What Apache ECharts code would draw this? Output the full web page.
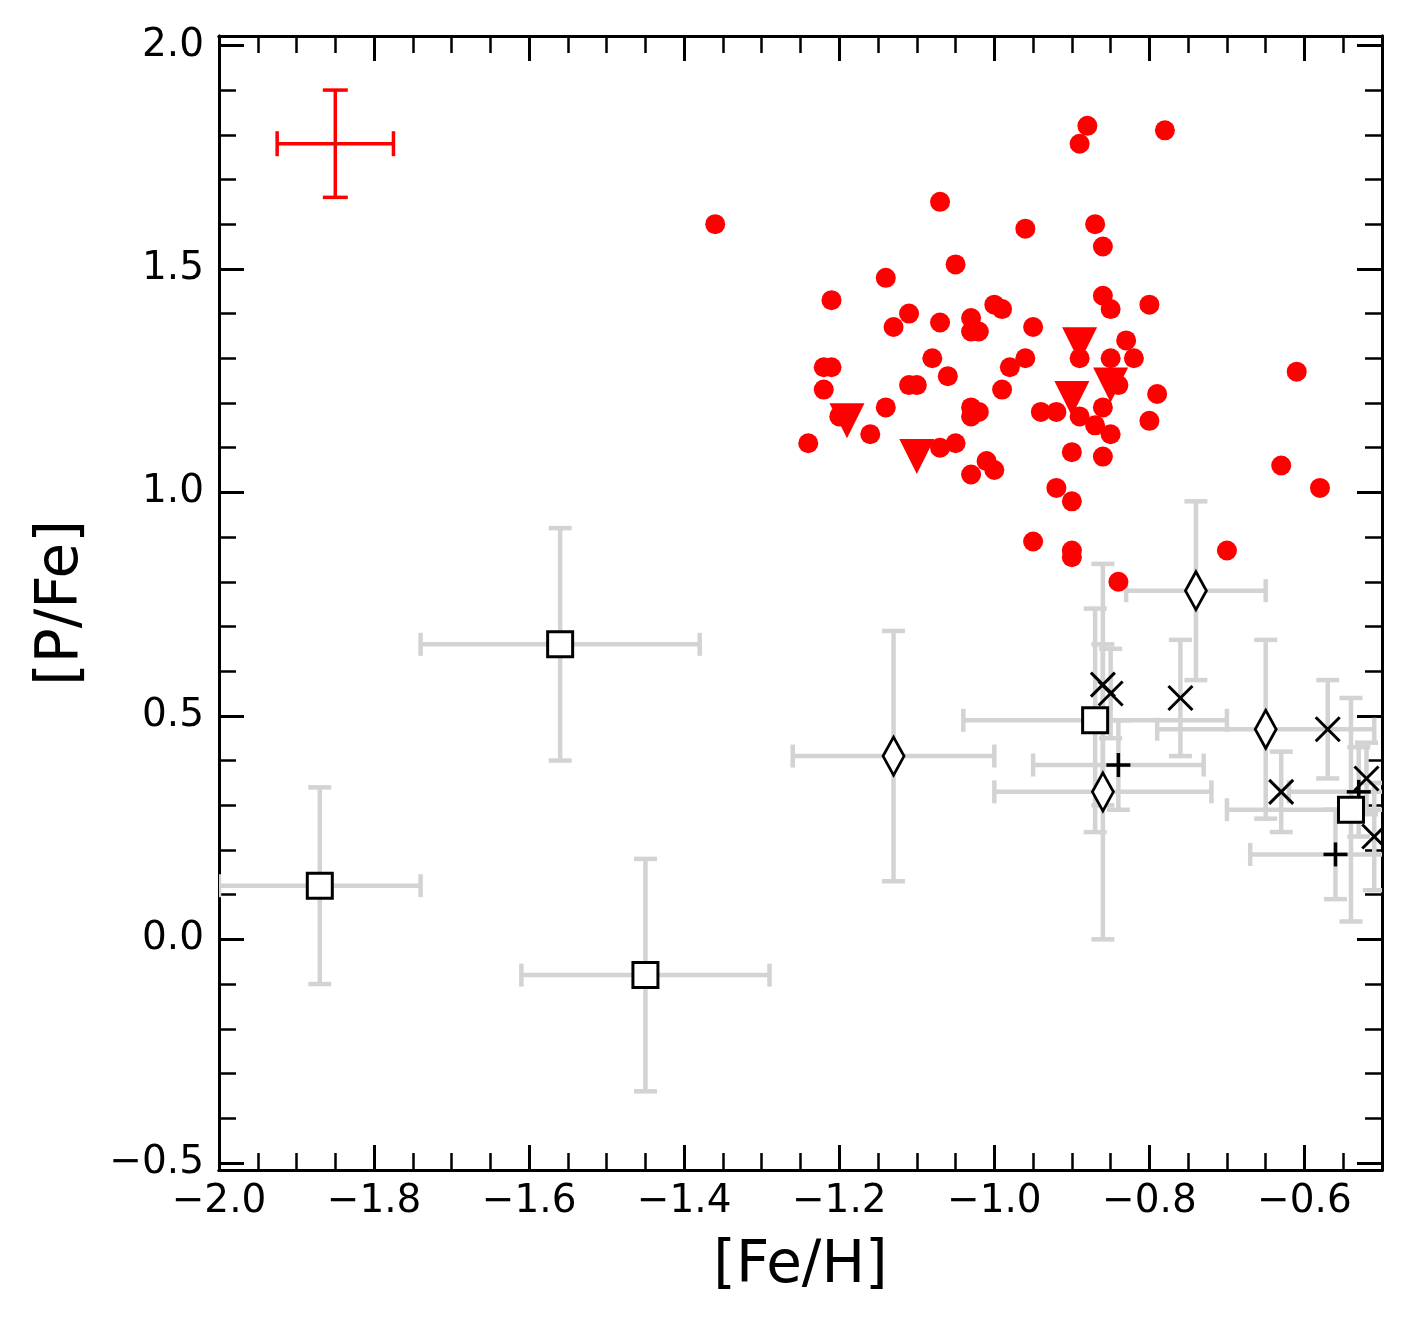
<!DOCTYPE html>
<html>
<head>
<meta charset="utf-8">
<script src="https://cdn.jsdelivr.net/npm/echarts@6/dist/echarts.min.js"></script>
<style>
  html, body { margin: 0; padding: 0; background: #fff; }
  #chart { width: 1411px; height: 1328px; }
</style>
</head>
<body>
<div id="chart"></div>
<script>
// tick positions
const xMajor = [-2.0, -1.8, -1.6, -1.4, -1.2, -1.0, -0.8, -0.6];
const xMinor = [-1.95, -1.90, -1.85, -1.75, -1.70, -1.65, -1.55, -1.50, -1.45,
  -1.35, -1.30, -1.25, -1.15, -1.10, -1.05, -0.95, -0.90, -0.85, -0.75, -0.70, -0.65, -0.55];
const yMajor = [-0.5, 0.0, 0.5, 1.0, 1.5, 2.0];
const yMinor = [-0.4, -0.3, -0.2, -0.1, 0.1, 0.2, 0.3, 0.4, 0.6, 0.7, 0.8, 0.9,
  1.1, 1.2, 1.3, 1.4, 1.6, 1.7, 1.8, 1.9];

// red sample: [Fe/H], [P/Fe]
const redCircles = [
  [-1.36, 1.60], [-0.88, 1.82], [-0.89, 1.78], [-0.78, 1.81], [-1.07, 1.65],
  [-0.96, 1.59], [-0.87, 1.60], [-0.86, 1.55], [-1.05, 1.51], [-1.14, 1.48],
  [-1.21, 1.43], [-0.86, 1.44], [-0.85, 1.41], [-0.80, 1.42], [-1.00, 1.42],
  [-0.99, 1.41], [-1.11, 1.40], [-1.13, 1.37], [-1.07, 1.38], [-1.03, 1.39],
  [-1.03, 1.36], [-1.02, 1.36], [-0.95, 1.37], [-0.83, 1.34], [-0.96, 1.30],
  [-0.98, 1.28], [-0.99, 1.23], [-0.89, 1.30], [-0.85, 1.30], [-0.82, 1.30],
  [-0.84, 1.24], [-0.79, 1.22], [-0.94, 1.18], [-0.92, 1.18], [-0.89, 1.17],
  [-0.87, 1.15], [-0.86, 1.19], [-0.85, 1.13], [-0.80, 1.16], [-0.90, 1.09],
  [-0.86, 1.08], [-1.00, 1.05], [-0.92, 1.01], [-0.90, 0.98], [-0.95, 0.89],
  [-0.90, 0.87], [-0.90, 0.855], [-0.84, 0.80], [-1.08, 1.30], [-1.22, 1.28],
  [-1.21, 1.28], [-1.22, 1.23], [-1.06, 1.26], [-1.11, 1.24], [-1.10, 1.24],
  [-1.14, 1.19], [-1.20, 1.17], [-1.03, 1.19], [-1.03, 1.17], [-1.02, 1.18],
  [-1.16, 1.13], [-1.24, 1.11], [-1.07, 1.10], [-1.05, 1.11], [-1.01, 1.07],
  [-1.03, 1.04], [-0.70, 0.87], [-0.61, 1.27], [-0.63, 1.06], [-0.58, 1.01]
];
const redTriangles = [[-0.89, 1.33], [-0.85, 1.24], [-0.90, 1.21], [-1.19, 1.16], [-1.10, 1.08]];
// typical uncertainty: [x, y, xerr, yerr]
const redError = [[-1.85, 1.78, 0.075, 0.12]];

// literature samples: [x, y, xerr, yerr]
const squares = [
  [-1.87, 0.12, 0.13, 0.22], [-1.56, 0.66, 0.18, 0.26], [-1.45, -0.08, 0.16, 0.26],
  [-0.87, 0.49, 0.17, 0.25], [-0.54, 0.29, 0.16, 0.25]
];
const diamonds = [
  [-1.13, 0.41, 0.13, 0.28], [-0.74, 0.78, 0.09, 0.20], [-0.86, 0.33, 0.14, 0.33],
  [-0.65, 0.47, 0.14, 0.20]
];
const crosses = [
  [-0.86, 0.57, 0, 0.27], [-0.85, 0.55, 0, 0.10], [-0.76, 0.54, 0, 0.13],
  [-0.57, 0.47, 0, 0.11], [-0.63, 0.33, 0, 0.09], [-0.52, 0.36, 0, 0.08],
  [-0.51, 0.23, 0, 0.12]
];
const pluses = [[-0.84, 0.39, 0.11, 0.10], [-0.56, 0.19, 0.11, 0.10], [-0.53, 0.33, 0.09, 0.10]];

const FONT = 'DejaVu Sans';
const fmt = v => (v < 0 ? '\u2212' : '') + Math.abs(v).toFixed(1);

function errorBars(color, width, cap) {
  return function (params, api) {
    const x = api.value(0), y = api.value(1), xe = api.value(2), ye = api.value(3);
    const style = { stroke: color, lineWidth: width };
    const kids = [];
    const seg = (a, b) => kids.push({ type: 'line', shape: { x1: a[0], y1: a[1], x2: b[0], y2: b[1] }, style: style });
    if (ye > 0) {
      const t = api.coord([x, y + ye]), b = api.coord([x, y - ye]);
      seg(t, b);
      seg([t[0] - cap / 2, t[1]], [t[0] + cap / 2, t[1]]);
      seg([b[0] - cap / 2, b[1]], [b[0] + cap / 2, b[1]]);
    }
    if (xe > 0) {
      const l = api.coord([x - xe, y]), r = api.coord([x + xe, y]);
      seg(l, r);
      seg([l[0], l[1] - cap / 2], [l[0], l[1] + cap / 2]);
      seg([r[0], r[1] - cap / 2], [r[0], r[1] + cap / 2]);
    }
    return { type: 'group', children: kids };
  };
}

function lineMarker(kind, half, width) {
  const segs = kind === 'x' ? [[-1, -1, 1, 1], [-1, 1, 1, -1]] : [[-1, 0, 1, 0], [0, -1, 0, 1]];
  return function (params, api) {
    const p = api.coord([api.value(0), api.value(1)]);
    return {
      type: 'group',
      children: segs.map(s => ({
        type: 'line',
        shape: { x1: p[0] + s[0] * half, y1: p[1] + s[1] * half, x2: p[0] + s[2] * half, y2: p[1] + s[3] * half },
        style: { stroke: '#000', lineWidth: width }
      }))
    };
  };
}

function axis(dim, pos, ticks, len, withLabels, extra) {
  const range = dim === 'x' ? { min: -2.0, max: -0.5 } : { min: -0.516, max: 2.021 };
  return Object.assign({
    type: 'value', position: pos, min: range.min, max: range.max,
    axisLine: { show: true, onZero: false, lineStyle: { color: '#000', width: 3 } },
    axisTick: { show: true, inside: true, length: len, customValues: ticks,
      lineStyle: { color: '#000', width: len > 20 ? 3 : 2.5 } },
    axisLabel: withLabels
      ? { show: true, customValues: ticks, formatter: fmt, color: '#000', fontFamily: FONT, fontSize: 39,
          margin: dim === 'x' ? 12 : 15 }
      : { show: false },
    splitLine: { show: false },
    minorTick: { show: false }
  }, extra || {});
}

const chart = echarts.init(document.getElementById('chart'), null, { renderer: 'canvas' });
chart.setOption({
  animation: false,
  backgroundColor: '#fff',
  grid: { left: 219, right: 29, top: 36, bottom: 158, containLabel: false, outerBoundsMode: 'none' },
  xAxis: [
    axis('x', 'bottom', xMajor, 25, true, {
      name: '[Fe/H]', nameLocation: 'middle', nameGap: 68,
      nameTextStyle: { fontFamily: FONT, fontSize: 58, color: '#000' }
    }),
    axis('x', 'bottom', xMinor, 17, false),
    axis('x', 'top', xMajor, 25, false),
    axis('x', 'top', xMinor, 17, false)
  ],
  yAxis: [
    axis('y', 'left', yMajor, 25, true, {
      name: '[P/Fe]', nameLocation: 'middle', nameGap: 128, nameRotate: 90,
      nameTextStyle: { fontFamily: FONT, fontSize: 58, color: '#000' }
    }),
    axis('y', 'left', yMinor, 17, false),
    axis('y', 'right', yMajor, 25, false),
    axis('y', 'right', yMinor, 17, false)
  ],
  series: [
    {
      type: 'custom', xAxisIndex: 0, yAxisIndex: 0, clip: true, silent: true, z: 1,
      renderItem: errorBars('#d3d3d3', 4.5, 23),
      data: [...squares, ...diamonds, ...crosses, ...pluses]
    },
    {
      type: 'scatter', xAxisIndex: 0, yAxisIndex: 0, z: 2, silent: true,
      symbol: 'rect', symbolSize: 25,
      itemStyle: { color: '#fff', borderColor: '#000', borderWidth: 3, opacity: 1 },
      data: squares.map(d => [d[0], d[1]])
    },
    {
      type: 'scatter', xAxisIndex: 0, yAxisIndex: 0, z: 2, silent: true,
      symbol: 'diamond', symbolSize: [21, 38],
      itemStyle: { color: '#fff', borderColor: '#000', borderWidth: 3, opacity: 1 },
      data: diamonds.map(d => [d[0], d[1]])
    },
    {
      type: 'custom', xAxisIndex: 0, yAxisIndex: 0, clip: true, silent: true, z: 2,
      renderItem: lineMarker('x', 12, 3), data: crosses
    },
    {
      type: 'custom', xAxisIndex: 0, yAxisIndex: 0, clip: true, silent: true, z: 2,
      renderItem: lineMarker('+', 12, 3.5), data: pluses
    },
    {
      type: 'scatter', xAxisIndex: 0, yAxisIndex: 0, z: 3, silent: true,
      symbol: 'circle', symbolSize: 20,
      itemStyle: { color: '#ff0000', opacity: 1 },
      data: redCircles
    },
    {
      type: 'scatter', xAxisIndex: 0, yAxisIndex: 0, z: 4, silent: true,
      symbol: 'triangle', symbolRotate: 180, symbolSize: 35,
      itemStyle: { color: '#ff0000', opacity: 1 },
      data: redTriangles
    },
    {
      type: 'custom', xAxisIndex: 0, yAxisIndex: 0, clip: true, silent: true, z: 5,
      renderItem: errorBars('#ff0000', 3.5, 25), data: redError
    }
  ]
});
</script>
</body>
</html>
